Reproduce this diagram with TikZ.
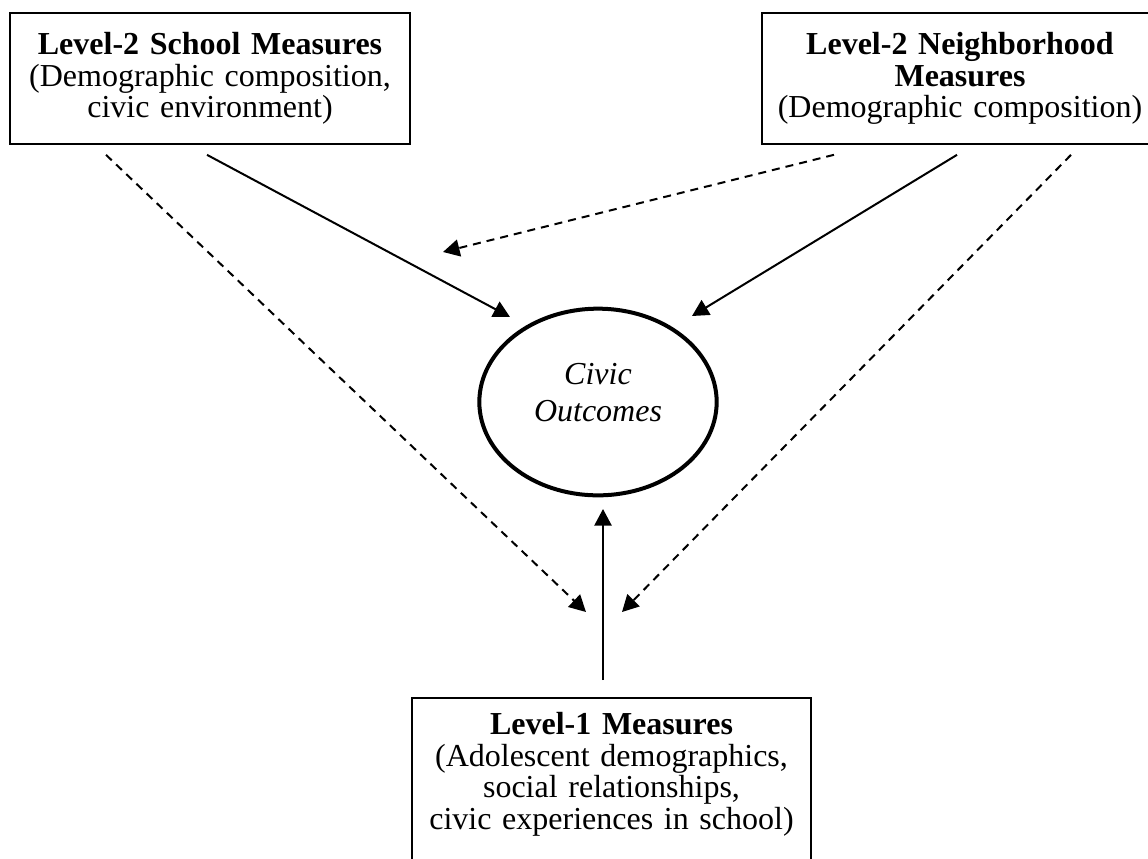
\documentclass[tikz,border=0pt]{standalone}
\usepackage{fontspec}
\setmainfont{Liberation Serif}
\usetikzlibrary{arrows.meta,shapes.geometric,positioning,calc}

\begin{document}
\begin{tikzpicture}[x=0.375pt, y=-0.375pt,
        measure/.style={draw, line width=0.75pt, inner sep=0pt, text width=146pt, align=center, font=\fontsize{12}{11.8}\selectfont},
        effect/.style={line width=0.75pt, -{Triangle[length=6.2pt,width=6.4pt]}},
        cross/.style={effect, dash pattern=on 3pt off 2.25pt}]
    \useasboundingbox (0,0) rectangle (1148,858);
    % level-2 measures
    \node[measure, minimum width=150pt, minimum height=49pt] (school) at (210,78.5)
        {\textbf{Level-2 School Measures}\\(Demographic composition,\\civic environment)};
    \node[measure, minimum width=148.5pt, minimum height=49pt] (neighborhood) at (960,78.5)
        {\textbf{Level-2 Neighborhood}\\\textbf{Measures}\\(Demographic composition)};
    % outcome
    \node[ellipse, draw, line width=1.5pt, inner sep=0pt, minimum width=89pt, minimum height=70pt] (outcome) at (598,402) {};
    \node[align=center, inner sep=0pt, font=\fontsize{12}{14}\selectfont\itshape] (outcometext) at ([yshift=3.5pt]outcome.center) {Civic\\Outcomes};
    % level-1 measures
    \node[draw, line width=0.75pt, anchor=north, minimum width=149.6pt, minimum height=80pt] (level1box) at (611.5,697) {};
    \node[measure, draw=none, below=5.5pt of level1box.north] (level1)
        {\textbf{Level-1 Measures}\\(Adolescent demographics,\\social relationships,\\civic experiences in school)};
    % free ends of the cross-level paths
    \coordinate (crossmid) at (443,252);
    \coordinate (crossleft) at (586,612);
    \coordinate (crossright) at (622,612);
    % paths
    \draw[effect] ($(school.south west)+(198,10)$) -- ($(outcome.center)+(-88,-85)$);
    \draw[effect] ($(neighborhood.south west)+(196,10)$) -- ($(outcome.center)+(94,-86)$);
    \draw[effect] ($(level1box.north)+(-8.5,-17)$) -- ($(outcome.center)+(5,107)$);
    \draw[cross] ($(school.south west)+(97,10)$) -- (crossleft);
    \draw[cross] ($(neighborhood.south west)+(73,10)$) -- (crossmid);
    \draw[cross] ($(neighborhood.south west)+(310,10)$) -- (crossright);
\end{tikzpicture}
\end{document}
